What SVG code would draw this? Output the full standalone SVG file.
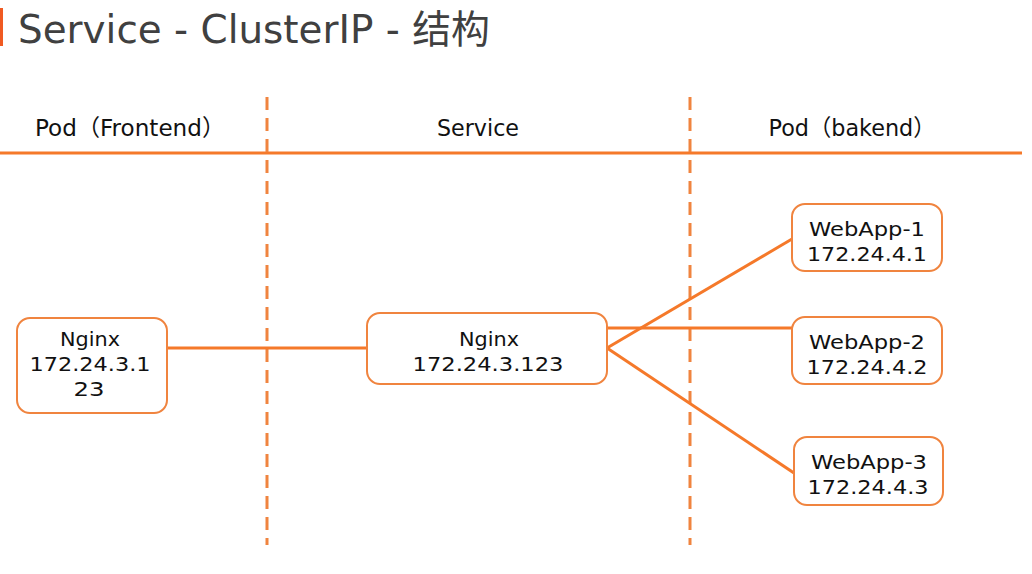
<svg xmlns="http://www.w3.org/2000/svg" width="1032" height="574" viewBox="0 0 1032 574">
<style>
.node rect{fill:#fff;stroke:#F0843F;stroke-width:2}
.t{font-family:"DejaVu Sans","Liberation Sans","Noto Sans CJK SC",sans-serif;font-size:20px;fill:#111;text-anchor:middle}
.h{font-family:"DejaVu Sans","Liberation Sans","Noto Sans CJK SC",sans-serif;font-size:23px;fill:#111;text-anchor:middle}
.dash{stroke:#F0843F;stroke-width:3;stroke-dasharray:13 8;fill:none}
.conn line{stroke:#F5792A;stroke-width:3}
</style>
<rect width="1032" height="574" fill="#fff"/>
<rect x="0" y="8" width="3" height="38" fill="#F05A22"/>
<text x="18" y="43" font-family="'DejaVu Sans','Liberation Sans','Noto Sans CJK SC',sans-serif" font-size="39" fill="#404040" textLength="472" lengthAdjust="spacingAndGlyphs">Service - ClusterIP - 结构</text>
<g id="headers">
<text class="h" x="130" y="136" textLength="190" lengthAdjust="spacingAndGlyphs">Pod（Frontend）</text>
<text class="h" x="478" y="136" textLength="82" lengthAdjust="spacingAndGlyphs">Service</text>
<text class="h" x="852" y="136" textLength="167" lengthAdjust="spacingAndGlyphs">Pod（bakend）</text>
</g>
<line x1="0" y1="153" x2="1022" y2="153" stroke="#F5792A" stroke-width="3"/>
<line class="dash" x1="267" y1="97" x2="267" y2="545"/>
<line class="dash" x1="690" y1="97" x2="690" y2="545"/>
<g class="conn" id="connectors">
<line x1="163" y1="348" x2="367" y2="348"/>
<line x1="607" y1="328" x2="792" y2="328"/>
<line x1="607" y1="348" x2="792" y2="239"/>
<line x1="607" y1="348" x2="794" y2="473"/>
</g>
<g class="node" id="frontend">
<rect x="17" y="318" width="150" height="95" rx="13"/>
<text class="t" x="90" y="346" textLength="60" lengthAdjust="spacingAndGlyphs">Nginx</text>
<text class="t" x="90" y="371" textLength="121" lengthAdjust="spacingAndGlyphs">172.24.3.1</text>
<text class="t" x="89" y="396" textLength="31" lengthAdjust="spacingAndGlyphs">23</text>
</g>
<g class="node" id="service">
<rect x="367" y="313" width="240" height="71" rx="13"/>
<text class="t" x="489" y="346" textLength="60" lengthAdjust="spacingAndGlyphs">Nginx</text>
<text class="t" x="488" y="371" textLength="151" lengthAdjust="spacingAndGlyphs">172.24.3.123</text>
</g>
<g class="node" id="webapp1">
<rect x="792" y="204" width="150" height="67" rx="13"/>
<text class="t" x="867" y="236" textLength="116" lengthAdjust="spacingAndGlyphs">WebApp-1</text>
<text class="t" x="867" y="261" textLength="120" lengthAdjust="spacingAndGlyphs">172.24.4.1</text>
</g>
<g class="node" id="webapp2">
<rect x="792" y="317" width="150" height="67" rx="13"/>
<text class="t" x="867" y="349" textLength="116" lengthAdjust="spacingAndGlyphs">WebApp-2</text>
<text class="t" x="867" y="374" textLength="121" lengthAdjust="spacingAndGlyphs">172.24.4.2</text>
</g>
<g class="node" id="webapp3">
<rect x="794" y="437" width="149" height="68" rx="13"/>
<text class="t" x="869" y="469" textLength="116" lengthAdjust="spacingAndGlyphs">WebApp-3</text>
<text class="t" x="868" y="494" textLength="121" lengthAdjust="spacingAndGlyphs">172.24.4.3</text>
</g>
</svg>
